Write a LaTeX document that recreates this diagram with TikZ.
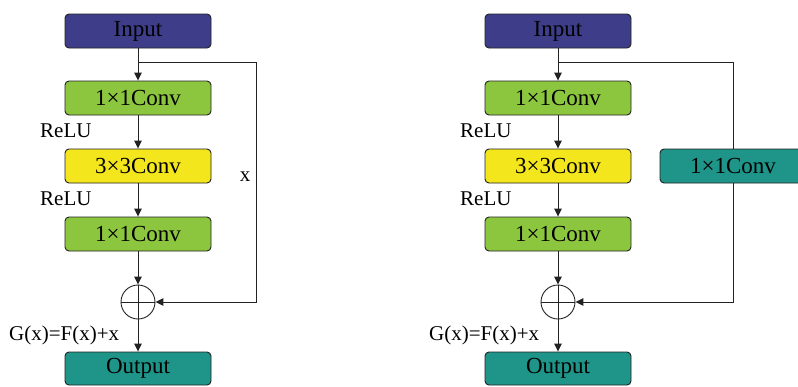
\documentclass[tikz,border=0pt]{standalone}
\usepackage{fontspec}
\setmainfont{Liberation Serif}
\usetikzlibrary{arrows.meta}
\definecolor{inblue}{HTML}{3D3D8A}
\definecolor{convgreen}{HTML}{8CC63F}
\definecolor{convyellow}{HTML}{F4E61C}
\definecolor{outteal}{HTML}{1F9488}
\definecolor{edgegray}{HTML}{222222}
\tikzset{
  blk/.style={draw=edgegray, line width=0.9pt, rounded corners=4pt,
    minimum width=146pt, minimum height=34pt, inner sep=0pt,
    font=\fontsize{23}{24}\selectfont},
  inbox/.style={blk, fill=inblue},
  greenbox/.style={blk, fill=convgreen},
  yellowbox/.style={blk, fill=convyellow},
  tealbox/.style={blk, fill=outteal},
  sumnode/.style={circle, draw=edgegray, line width=0.9pt, minimum size=34pt, inner sep=0pt},
  lbl/.style={font=\fontsize{21}{22}\selectfont, inner sep=0pt},
  wire/.style={draw=edgegray, line width=1pt},
  arr/.style={wire, -{Triangle[length=8pt,width=7.5pt]}}
}
\begin{document}
\begin{tikzpicture}[x=1pt,y=-1pt]
\clip (0,0) rectangle (798,386);
\fill[white] (0,0) rectangle (798,386);

% ---- plain residual block ----
\node[inbox] (inA) at (138,31) {Input};
\node[greenbox] (c1A) at (138,98) {1×1Conv};
\node[yellowbox] (c2A) at (138,166) {3×3Conv};
\node[greenbox] (c3A) at (138,234) {1×1Conv};
\node[sumnode] (sumA) at (138,302) {};
\node[tealbox, minimum height=33pt] (outA) at (138,368.5) {Output};
\draw[wire] (sumA.north) -- (sumA.south) (sumA.west) -- (sumA.east);

\coordinate (splitA) at (138,62);
\coordinate (cornerA) at (256,62);
\draw[arr] (inA) -- (c1A);
\draw[arr] (c1A) -- (c2A);
\draw[arr] (c2A) -- (c3A);
\draw[arr] (c3A) -- (sumA);
\draw[arr] (sumA) -- (outA);
\draw[arr] (splitA) -- (cornerA) |- (sumA.east);

\node[lbl, anchor=west] (r1A) at (40,131) {ReLU};
\node[lbl, anchor=west] (r2A) at (40,199) {ReLU};
\node[lbl] (xA) at (245,177) {x};
\node[lbl, anchor=west] (gA) at (9,335) {G(x)=F(x)+x};

% ---- projection residual block ----
\node[inbox] (inB) at (558,31) {Input};
\node[greenbox] (c1B) at (558,98) {1×1Conv};
\node[yellowbox] (c2B) at (558,166) {3×3Conv};
\node[greenbox] (c3B) at (558,234) {1×1Conv};
\node[sumnode] (sumB) at (558,302) {};
\node[tealbox, minimum height=33pt] (outB) at (558,368.5) {Output};
\node[tealbox] (cpB) at (733,166) {1×1Conv};
\draw[wire] (sumB.north) -- (sumB.south) (sumB.west) -- (sumB.east);

\coordinate (splitB) at (558,62);
\draw[arr] (inB) -- (c1B);
\draw[arr] (c1B) -- (c2B);
\draw[arr] (c2B) -- (c3B);
\draw[arr] (c3B) -- (sumB);
\draw[arr] (sumB) -- (outB);
\draw[wire] (splitB) -| (cpB.north);
\draw[arr] (cpB.south) |- (sumB.east);

\node[lbl, anchor=west] (r1B) at (460,131) {ReLU};
\node[lbl, anchor=west] (r2B) at (460,199) {ReLU};
\node[lbl, anchor=west] (gB) at (429,335) {G(x)=F(x)+x};
\end{tikzpicture}
\end{document}
